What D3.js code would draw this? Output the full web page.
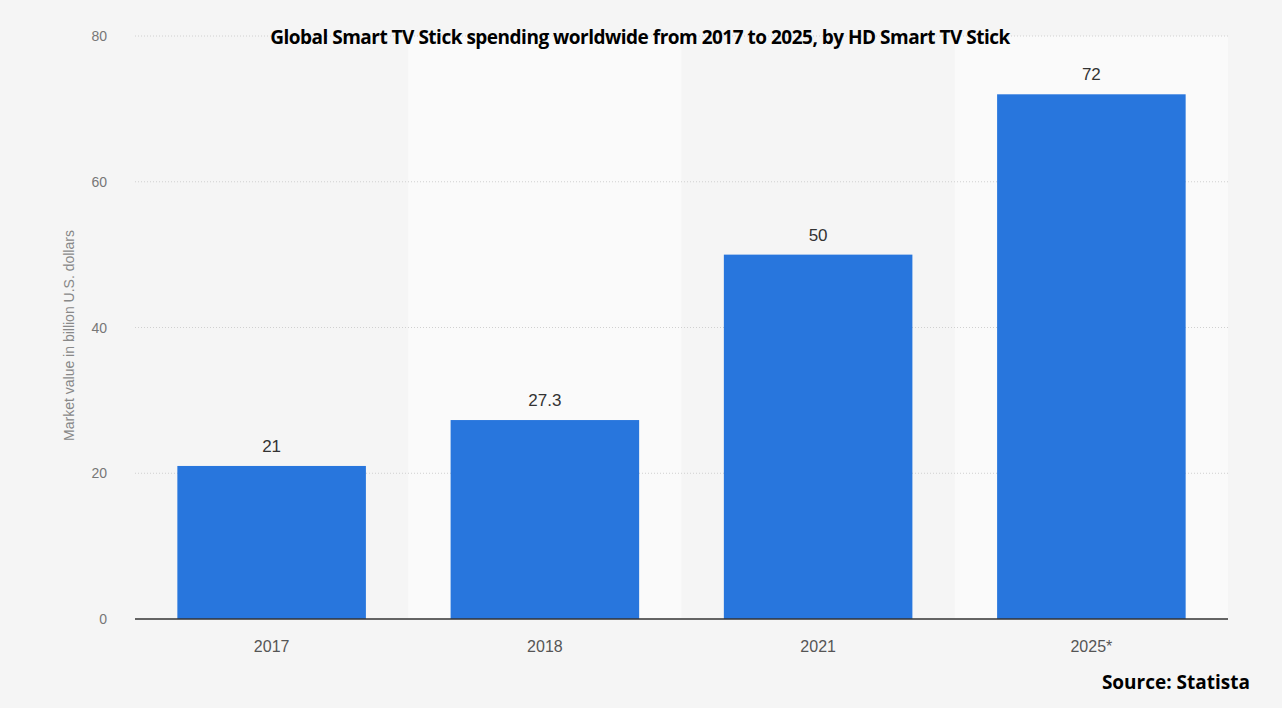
<!DOCTYPE html>
<html lang="en">
<head>
  <meta charset="UTF-8">
  <title>Smart TV Stick spending</title>
  <script src='https://d3js.org/d3.v7.min.js'></script>
  <style>
    html, body { margin: 0; background: #f5f5f5; overflow: hidden; }
    svg { display: block; font-family: 'Liberation Sans', Arial, sans-serif; }
  </style>
</head>
<body>
  <div id='chart'></div>
  <script type='text/javascript'>
    const years = ['2017', '2018', '2021', '2025*']
    const values = [21, 27.3, 50, 72]
    const valueLabels = ['21', '27.3', '50', '72']
    const yTicks = [0, 20, 40, 60, 80]

    const width = 1282
    const height = 708
    const margin = { top: 36, right: 54, bottom: 89, left: 135 }

    const svg = d3.select('#chart').append('svg')
      .attr('width', width)
      .attr('height', height)

    svg.append('rect')
      .attr('width', width).attr('height', height)
      .attr('fill', '#f5f5f5')

    const x = d3.scaleBand()
      .domain(years)
      .range([margin.left, width - margin.right])
      .paddingInner(0.31)
      .paddingOuter(0.155)

    const y = d3.scaleLinear()
      .domain([0, 80])
      .range([height - margin.bottom, margin.top])

    const step = x.step()

    // alternate lighter bands
    svg.selectAll('.band')
      .data(years.filter((d, i) => i % 2 === 1))
      .enter()
      .append('rect')
      .attr('x', d => x(d) - (step - x.bandwidth()) / 2)
      .attr('y', margin.top)
      .attr('width', step)
      .attr('height', y(0) - margin.top)
      .attr('fill', '#fafafa')

    // grid
    svg.selectAll('.grid')
      .data(yTicks.filter(t => t > 0))
      .enter()
      .append('line')
      .attr('x1', margin.left)
      .attr('x2', width - margin.right)
      .attr('y1', d => y(d))
      .attr('y2', d => y(d))
      .attr('stroke', '#d0d0d0')
      .attr('stroke-dasharray', '1,2')

    svg.selectAll('.ytick')
      .data(yTicks)
      .enter()
      .append('text')
      .attr('x', 107)
      .attr('y', d => y(d) + 5)
      .attr('text-anchor', 'end')
      .attr('fill', '#777')
      .style('font-size', '14px')
      .text(d => d)

    svg.append('text')
      .attr('transform', `translate(74,${(margin.top + y(0)) / 2 + 8}) rotate(-90)`)
      .attr('text-anchor', 'middle')
      .attr('fill', '#888')
      .style('font-size', '14px')
      .text('Market value in billion U.S. dollars')

    svg.selectAll('.bar')
      .data(years)
      .enter()
      .append('rect')
      .attr('x', d => x(d))
      .attr('y', (d, i) => y(values[i]))
      .attr('width', x.bandwidth())
      .attr('height', (d, i) => y(0) - y(values[i]))
      .attr('fill', '#2876dd')

    svg.selectAll('.val')
      .data(years)
      .enter()
      .append('text')
      .attr('x', d => x(d) + x.bandwidth() / 2)
      .attr('y', (d, i) => y(values[i]) - 14)
      .attr('text-anchor', 'middle')
      .attr('fill', '#333')
      .style('font-size', '17px')
      .text((d, i) => valueLabels[i])

    svg.append('line')
      .attr('x1', margin.left).attr('x2', width - margin.right)
      .attr('y1', y(0)).attr('y2', y(0))
      .attr('stroke', '#333').attr('stroke-width', 1.5)

    svg.selectAll('.xlab')
      .data(years)
      .enter()
      .append('text')
      .attr('x', d => x(d) + x.bandwidth() / 2)
      .attr('y', y(0) + 33)
      .attr('text-anchor', 'middle')
      .attr('fill', '#555')
      .style('font-size', '16px')
      .text(d => d)

    svg.append('text')
      .attr('x', 640)
      .attr('y', 44)
      .attr('text-anchor', 'middle')
      .style('font-family', "'Open Sans', sans-serif")
      .style('font-weight', 700)
      .style('font-size', '19px')
      .style('letter-spacing', '-0.5px')
      .attr('fill', '#000')
      .text('Global Smart TV Stick spending worldwide from 2017 to 2025, by HD Smart TV Stick')

    svg.append('text')
      .attr('x', 1250)
      .attr('y', 689)
      .attr('text-anchor', 'end')
      .style('font-family', "'Open Sans', sans-serif")
      .style('font-weight', 700)
      .style('font-size', '19px')
      .attr('fill', '#000')
      .text('Source: Statista')
  </script>
</body>
</html>
